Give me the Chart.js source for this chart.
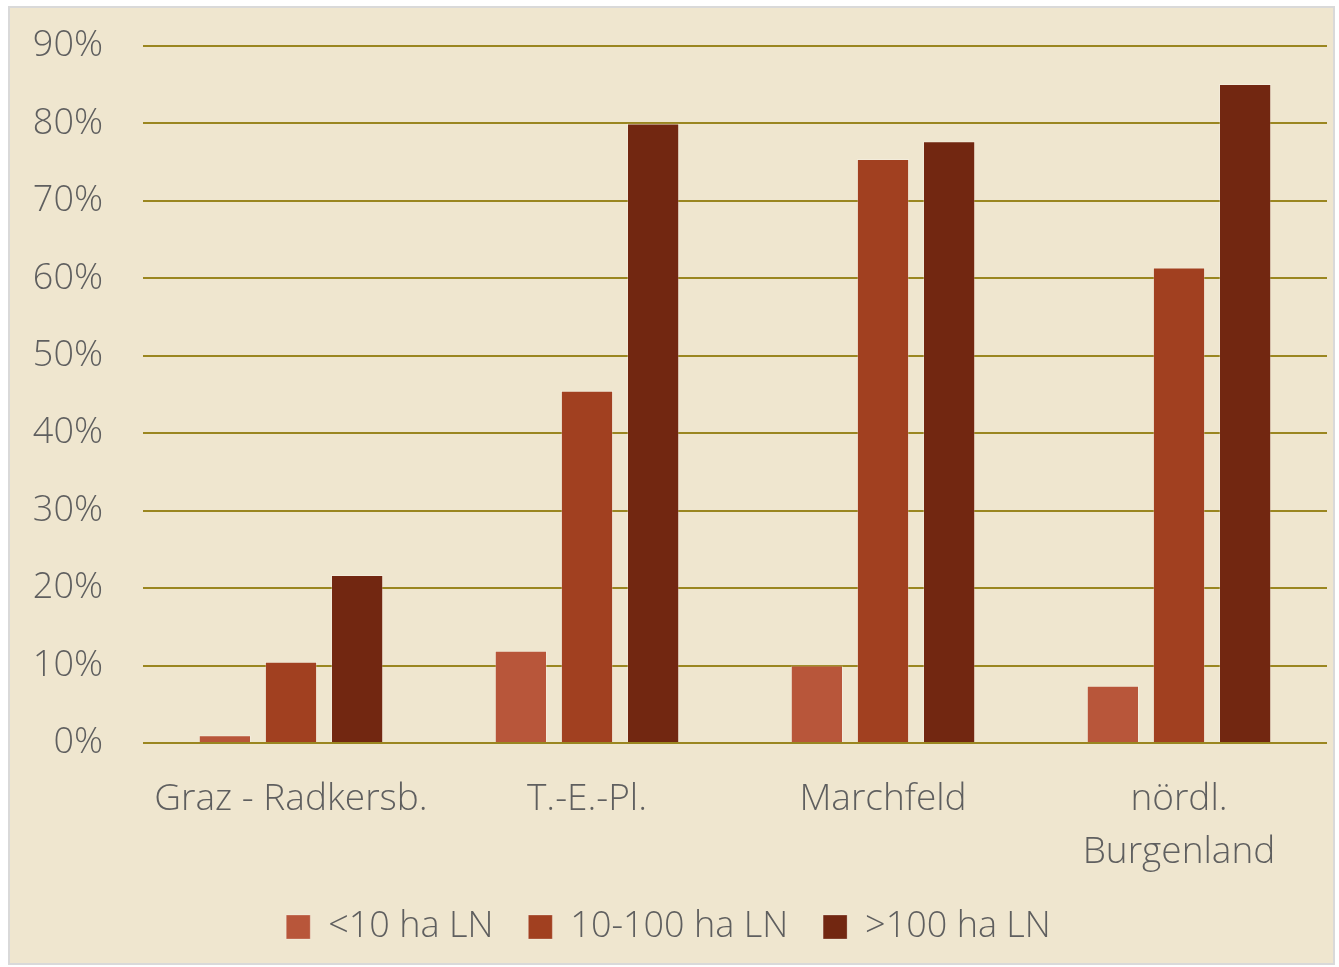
<!DOCTYPE html>
<html>
<head>
<meta charset="utf-8">
<script src="https://cdn.jsdelivr.net/npm/chart.js@4.4.0/dist/chart.umd.min.js"></script>
<style>
  html, body { margin: 0; padding: 0; background: #ffffff; }
  #wrap {
    position: absolute; left: 8px; top: 6px;
    width: 1327px; height: 959px;
    box-sizing: border-box;
    border: 2px solid #d9d9d9;
    background: #efe6cf;
  }
  canvas { display: block; }
</style>
</head>
<body>
<div id="wrap"><canvas id="shares"></canvas></div>
<script>
// regions and their share by farm size class
const regions   = ["Graz - Radkersb.", "T.-E.-Pl.", "Marchfeld", ["nördl.", "Burgenland"]];
const small     = [1.0, 11.9, 10.0, 7.4];    // <10 ha LN
const medium    = [10.5, 45.5, 75.4, 61.4];  // 10-100 ha LN
const large     = [21.7, 80.0, 77.7, 85.1];  // >100 ha LN
const sizeNames = ["<10 ha LN", "10-100 ha LN", ">100 ha LN"];
const colors    = ["#b8563a", "#a14020", "#722711"];

const font = "'Open Sans', 'DejaVu Sans', sans-serif";
const textColor = "#5f5f5f";

function dataset(i, values) {
    return {
        label: sizeNames[i],
        data: values,
        backgroundColor: colors[i],
        borderColor: "rgba(255,255,255,0.25)",
        borderWidth: 1,
        borderSkipped: "bottom",
        categoryPercentage: 0.67,
        barPercentage: 0.79
    };
}

const ctx = document.getElementById("shares").getContext("2d");
new Chart(ctx, {
    type: "bar",
    data: {
        labels: regions,
        datasets: [dataset(0, small), dataset(1, medium), dataset(2, large)]
    },
    options: {
        responsive: true,
        maintainAspectRatio: false,
        animation: false,
        layout: { padding: { top: 38, left: 0, right: 6, bottom: 8 } },
        scales: {
            y: {
                min: 0,
                max: 90,
                afterFit: s => { s.width = 133; s.paddingTop = 0; s.paddingBottom = 0; },
                ticks: {
                    stepSize: 10,
                    padding: 40,
                    color: textColor,
                    font: { family: font, size: 36, weight: 300 },
                    callback: v => v + "%"
                },
                grid: { color: "#9a8620", lineWidth: 2, drawTicks: false },
                border: { display: false }
            },
            x: {
                afterFit: s => { s.height = 131; },
                grid: { display: false },
                border: { display: false },
                ticks: {
                    padding: 22,
                    color: textColor,
                    font: { family: font, size: 37, weight: 300, lineHeight: 1.43 },
                    maxRotation: 0
                }
            }
        },
        plugins: {
            legend: {
                position: "bottom",
                labels: {
                    boxWidth: 24,
                    boxHeight: 24,
                    padding: 35,
                    color: textColor,
                    font: { family: font, size: 36, weight: 300 }
                }
            },
            tooltip: { enabled: false }
        }
    }
});
</script>
</body>
</html>
